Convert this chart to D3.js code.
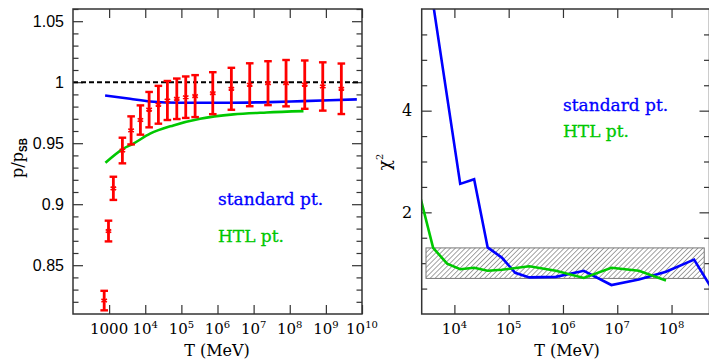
<!DOCTYPE html>
<html>
<head>
<meta charset="utf-8">
<script src="https://cdn.jsdelivr.net/npm/d3@7"></script>
<style>
  body { margin: 0; background: #fff; }
  svg { display: block; }
  .frame { fill: none; stroke: #333; stroke-width: 1.5; }
  .tick line { stroke: #333; stroke-width: 1.2; }
  .domain { display: none; }
</style>
</head>
<body>
<svg id="chart" width="709" height="360"></svg>
<script>
// pressure data (lattice points with errors)
const tempT = [730, 960, 1310, 2330, 4060, 7350, 12800, 23100, 41000, 74700, 132000, 240000, 740000, 2.42e6, 7.8e6, 2.5e7, 7.9e7, 2.6e8, 8.2e8, 2.68e9];
const pRatio = [0.821, 0.878, 0.913, 0.944, 0.9605, 0.969, 0.9775, 0.9815, 0.985, 0.9864, 0.9877, 0.9886, 0.991, 0.9946, 0.9979, 0.9992, 0.9992, 0.998, 0.9965, 0.9946];
const pErr = [0.008, 0.0085, 0.0095, 0.0105, 0.0115, 0.012, 0.0145, 0.0155, 0.016, 0.0166, 0.017, 0.0172, 0.0172, 0.0172, 0.0176, 0.018, 0.019, 0.0198, 0.0198, 0.0207];

// perturbative curves, left panel
const stdT = [774, 3800, 13600, 92000, 2.2e6, 2.85e7, 2.3e8, 7.2e9];
const stdP = [0.9891, 0.9864, 0.9842, 0.9832, 0.9832, 0.9837, 0.9845, 0.9859];
const htlT = [790, 2490, 4700, 13600, 60000, 330000, 2.75e6, 2.3e7, 2.4e8];
const htlP = [0.934, 0.9456, 0.9497, 0.9578, 0.9646, 0.970, 0.9736, 0.9752, 0.9763];

// chi^2 curves, right panel
const chiStdT = [4060, 12800, 23100, 41000, 74700, 132000, 240000, 740000, 2.42e6, 7.8e6, 2.5e7, 7.9e7, 2.6e8, 8.2e8];
const chiStd = [6.1, 2.56, 2.65, 1.31, 1.11, 0.81, 0.72, 0.73, 0.85, 0.57, 0.68, 0.83, 1.07, 0.2];
const chiHtlT = [2330, 4060, 7350, 12800, 23100, 41000, 74700, 240000, 740000, 2.42e6, 7.8e6, 2.5e7, 7.9e7];
const chiHtl = [2.32, 1.30, 0.99, 0.88, 0.91, 0.85, 0.87, 0.94, 0.85, 0.71, 0.91, 0.85, 0.66];
const bandT = [3000, 4e8];
const bandChi = [0.7, 1.3];

// ticks
const leftXTicks = [1e3, 1e4, 1e5, 1e6, 1e7, 1e8, 1e9, 1e10];
const leftYTicks = [0.85, 0.9, 0.95, 1, 1.05];
const rightXTicks = [1e4, 1e5, 1e6, 1e7, 1e8];
const rightYTicks = [2, 4];

const svg = d3.select('#chart');
const blue = '#0000ff', green = '#00c800', red = '#ff0000';
const serif = '"DejaVu Serif", serif';
const sans = '"Liberation Sans", Arial, sans-serif';

const defs = svg.append('defs');
const hatch = defs.append('pattern')
  .attr('id', 'hatch')
  .attr('patternUnits', 'userSpaceOnUse')
  .attr('width', 3.5).attr('height', 3.5)
  .attr('patternTransform', 'rotate(45)');
hatch.append('rect').attr('width', 3.5).attr('height', 3.5).attr('fill', '#fff');
hatch.append('line').attr('x1', 0).attr('y1', 0).attr('x2', 0).attr('y2', 3.5)
  .attr('stroke', '#666').attr('stroke-width', 1.2);

function minorRange(a, b, step) {
  const out = [];
  const n = Math.round((b - a) / step);
  for (let i = 0; i <= n; i++) out.push(+(a + i * step).toFixed(4));
  return out;
}

// draw inward ticks on all four sides
function frameTicks(g, x, y, xTicks, yMajor, yMinor, w) {
  const [x0] = x.range();
  const [y0, y1] = y.range();
  g.append('g').attr('transform', `translate(0,${y0})`)
    .call(d3.axisBottom(x).tickValues(xTicks).tickSize(-9).tickFormat(''));
  g.append('g').attr('transform', `translate(0,${y1})`)
    .call(d3.axisTop(x).tickValues(xTicks).tickSize(-9).tickFormat(''));
  g.append('g').attr('transform', `translate(${x0},0)`)
    .call(d3.axisLeft(y).tickValues(yMajor).tickSize(-10).tickFormat(''));
  g.append('g').attr('transform', `translate(${x0},0)`)
    .call(d3.axisLeft(y).tickValues(yMinor).tickSize(-5.5).tickFormat(''));
  g.append('g').attr('transform', `translate(${w},0)`)
    .call(d3.axisRight(y).tickValues(yMajor).tickSize(-10).tickFormat(''));
  g.append('g').attr('transform', `translate(${w},0)`)
    .call(d3.axisRight(y).tickValues(yMinor).tickSize(-5.5).tickFormat(''));
}

function powLabel(g, xpos, ypos, exp) {
  const t = g.append('text')
    .attr('x', xpos).attr('y', ypos)
    .attr('text-anchor', 'middle')
    .attr('font-family', serif).attr('font-size', 15);
  t.append('tspan').text('10');
  t.append('tspan').attr('dy', -6).attr('font-size', 10).text(exp);
}

function legendText(g, xpos, ypos, color, label) {
  g.append('text')
    .attr('x', xpos).attr('y', ypos)
    .attr('font-family', serif).attr('font-size', 17)
    .attr('fill', color).attr('stroke', color).attr('stroke-width', 0.3)
    .text(label);
}

/* ---------------- left panel ---------------- */
const xL = d3.scaleLog().domain([100, 1e10]).range([73, 362]);
const yL = d3.scaleLinear().domain([0.81, 1.06]).range([314, 9]);

defs.append('clipPath').attr('id', 'clipL').append('rect')
  .attr('x', 73).attr('y', 9).attr('width', 289).attr('height', 305);

const gL = svg.append('g');
frameTicks(gL, xL, yL, leftXTicks, leftYTicks,
  minorRange(0.82, 1.06, 0.01).filter(v => !leftYTicks.some(t => Math.abs(t - v) < 1e-6)), 362);

const plotL = gL.append('g').attr('clip-path', 'url(#clipL)');

plotL.append('line')
  .attr('x1', xL(100)).attr('x2', xL(1e10))
  .attr('y1', yL(1)).attr('y2', yL(1))
  .attr('stroke', '#000').attr('stroke-width', 2)
  .attr('stroke-dasharray', '5,3');

const lineL = d3.line().x(d => xL(d[0])).y(d => yL(d[1])).curve(d3.curveMonotoneX);
plotL.append('path').datum(d3.zip(stdT, stdP)).attr('d', lineL)
  .attr('fill', 'none').attr('stroke', blue).attr('stroke-width', 2.6);
plotL.append('path').datum(d3.zip(htlT, htlP)).attr('d', lineL)
  .attr('fill', 'none').attr('stroke', green).attr('stroke-width', 2.6);

const bars = plotL.selectAll('.ebar').data(d3.zip(tempT, pRatio, pErr)).join('g').attr('class', 'ebar');
bars.append('line')
  .attr('x1', d => xL(d[0])).attr('x2', d => xL(d[0]))
  .attr('y1', d => yL(d[1] - d[2])).attr('y2', d => yL(d[1] + d[2]))
  .attr('stroke', red).attr('stroke-width', 2.8);
bars.append('line')
  .attr('x1', d => xL(d[0]) - 3.8).attr('x2', d => xL(d[0]) + 3.8)
  .attr('y1', d => yL(d[1] + d[2])).attr('y2', d => yL(d[1] + d[2]))
  .attr('stroke', red).attr('stroke-width', 2.4);
bars.append('line')
  .attr('x1', d => xL(d[0]) - 3.8).attr('x2', d => xL(d[0]) + 3.8)
  .attr('y1', d => yL(d[1] - d[2])).attr('y2', d => yL(d[1] - d[2]))
  .attr('stroke', red).attr('stroke-width', 2.4);
bars.append('path')
  .attr('transform', d => `translate(${xL(d[0])},${yL(d[1])})`)
  .attr('d', d3.symbol(d3.symbolAsterisk, 28))
  .attr('fill', 'none').attr('stroke', red).attr('stroke-width', 1.6);

gL.append('rect').attr('class', 'frame')
  .attr('x', 73).attr('y', 9).attr('width', 289).attr('height', 305);

// left tick labels
gL.selectAll('.ylab').data(leftYTicks).join('text')
  .attr('x', 64).attr('y', d => yL(d) + 5.5)
  .attr('text-anchor', 'end')
  .attr('font-family', sans).attr('font-size', 16)
  .text(d => d3.format('~g')(d));

gL.append('text')
  .attr('x', xL(1e3)).attr('y', 334)
  .attr('text-anchor', 'middle')
  .attr('font-family', serif).attr('font-size', 15)
  .text('1000');
leftXTicks.slice(1).forEach(t => powLabel(gL, xL(t), 334, Math.round(Math.log10(t))));

gL.append('text')
  .attr('x', 217).attr('y', 356)
  .attr('text-anchor', 'middle')
  .attr('font-family', serif).attr('font-size', 16)
  .text('T (MeV)');

const pLab = gL.append('text')
  .attr('transform', 'translate(23,158) rotate(-90)')
  .attr('text-anchor', 'middle')
  .attr('font-family', serif).attr('font-size', 16);
pLab.append('tspan').text('p/p');
pLab.append('tspan').attr('dy', 4).attr('font-size', 10)
  .attr('font-family', sans).attr('font-weight', 'bold').text('SB');

legendText(gL, 218, 205, blue, 'standard pt.');
legendText(gL, 218, 242, green, 'HTL pt.');

/* ---------------- right panel ---------------- */
const xR = d3.scaleLog().domain([2500, 5e8]).range([421.7, 709.5]);
const yR = d3.scaleLinear().domain([0, 6]).range([314, 9]);

defs.append('clipPath').attr('id', 'clipR').append('rect')
  .attr('x', 421.7).attr('y', 9).attr('width', 287.8).attr('height', 305);

const gR = svg.append('g');
frameTicks(gR, xR, yR, rightXTicks, rightYTicks,
  minorRange(0.5, 5.5, 0.5).filter(v => !rightYTicks.includes(v)), 709.5);

const plotR = gR.append('g').attr('clip-path', 'url(#clipR)');

plotR.append('rect')
  .attr('x', xR(bandT[0])).attr('width', xR(bandT[1]) - xR(bandT[0]))
  .attr('y', yR(bandChi[1])).attr('height', yR(bandChi[0]) - yR(bandChi[1]))
  .attr('fill', 'url(#hatch)').attr('stroke', '#777').attr('stroke-width', 1);

const lineR = d3.line().x(d => xR(d[0])).y(d => yR(d[1]));
plotR.append('path').datum(d3.zip(chiStdT, chiStd)).attr('d', lineR)
  .attr('fill', 'none').attr('stroke', blue).attr('stroke-width', 2.6);
plotR.append('path').datum(d3.zip(chiHtlT, chiHtl)).attr('d', lineR)
  .attr('fill', 'none').attr('stroke', green).attr('stroke-width', 2.6);

gR.append('rect').attr('class', 'frame')
  .attr('x', 421.7).attr('y', 9).attr('width', 287.8).attr('height', 305);

gR.selectAll('.ylab').data(rightYTicks).join('text')
  .attr('x', 407).attr('y', d => yR(d) + 5.5)
  .attr('text-anchor', 'middle')
  .attr('font-family', serif).attr('font-size', 16)
  .text(d => d);

rightXTicks.forEach(t => powLabel(gR, xR(t), 334, Math.round(Math.log10(t))));

gR.append('text')
  .attr('x', 567).attr('y', 356)
  .attr('text-anchor', 'middle')
  .attr('font-family', serif).attr('font-size', 16)
  .text('T (MeV)');

const chiLab = gR.append('text')
  .attr('transform', 'translate(390,162) rotate(-90)')
  .attr('text-anchor', 'middle')
  .attr('font-family', serif).attr('font-size', 17);
chiLab.append('tspan').text('χ');
chiLab.append('tspan').attr('dy', -7).attr('font-size', 10).text('2');

legendText(gR, 563, 111, blue, 'standard pt.');
legendText(gR, 563, 137, green, 'HTL pt.');
</script>
</body>
</html>
